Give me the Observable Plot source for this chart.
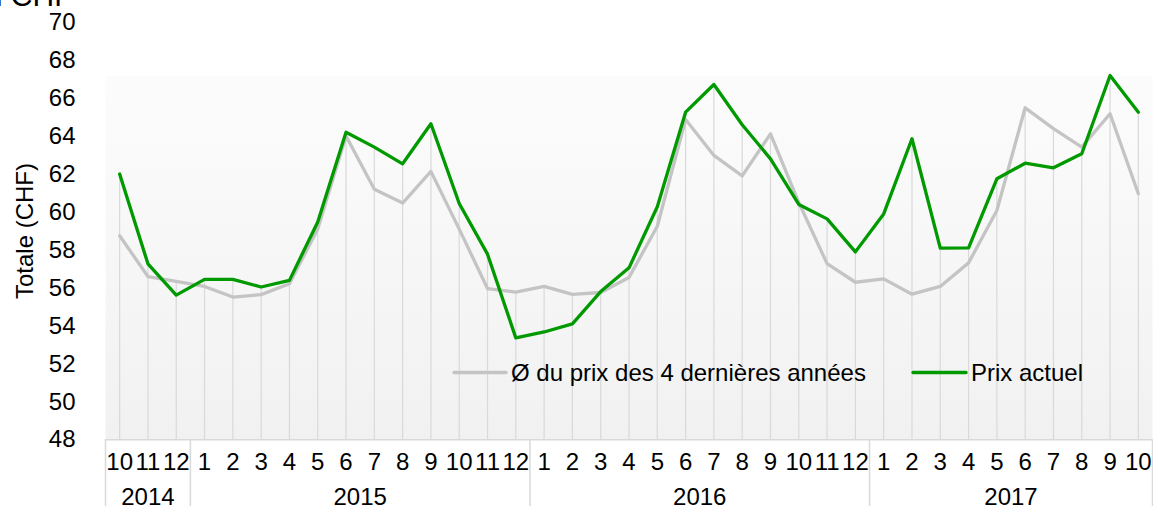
<!DOCTYPE html>
<html>
<head>
<meta charset="utf-8">
<script src="https://cdn.jsdelivr.net/npm/d3@7"></script>
<script src="https://cdn.jsdelivr.net/npm/@observablehq/plot@0.6"></script>
<style>
  html, body { margin: 0; padding: 0; background: #fff; }
  #chart { position: relative; width: 1153px; height: 506px; overflow: hidden; }
</style>
</head>
<body>
<div id="chart"></div>
<script>
const monthLabels = ["10","11","12","1","2","3","4","5","6","7","8","9","10","11","12","1","2","3","4","5","6","7","8","9","10","11","12","1","2","3","4","5","6","7","8","9","10"];
const yearLabels = ["2014","2015","2016","2017"];
const yearLengths = [3, 12, 12, 10];
const avgPrice = [58.75, 56.6, 56.35, 56.08, 55.52, 55.65, 56.22, 59.1, 64.0, 61.2, 60.47, 62.14, 59.1, 55.97, 55.78, 56.08, 55.66, 55.76, 56.55, 59.25, 64.87, 62.98, 61.9, 64.12, 60.5, 57.28, 56.3, 56.48, 55.67, 56.08, 57.32, 60.08, 65.49, 64.39, 63.42, 65.18, 60.96];
const currentPrice = [62.0, 57.27, 55.62, 56.45, 56.45, 56.05, 56.4, 59.47, 64.2, 63.42, 62.54, 64.65, 60.45, 57.78, 53.37, 53.68, 54.11, 55.81, 57.06, 60.28, 65.26, 66.72, 64.6, 62.8, 60.4, 59.64, 57.9, 59.9, 63.86, 58.1, 58.11, 61.75, 62.57, 62.33, 63.07, 67.19, 65.26];
const yTicks = [48,50,52,54,56,58,60,62,64,66,68,70];
const seriesNames = ["Ø du prix des 4 dernières années", "Prix actuel"];
const yLabel = "Totale (CHF)";
const unitLabel = "en CHF";

const idx = monthLabels.map((_, i) => i);
const rows = idx.map(i => ({i, avg: avgPrice[i], cur: currentPrice[i], top: Math.max(avgPrice[i], currentPrice[i])}));

// year boundaries and centers
const bounds = [-0.5];
const centers = [];
let acc = 0;
yearLengths.forEach(n => { centers.push(acc + (n - 1) / 2); acc += n; bounds.push(acc - 0.5); });

const FONT = "Liberation Sans, Arial, sans-serif";
const FS = 24;
const GREEN = "#009a00";
const GREY = "#c4c4c4";
const GRID = "#d9d9d9";

const plot = Plot.plot({
  width: 1153,
  height: 506,
  marginLeft: 105,
  marginRight: 1,
  marginTop: 21.7,
  marginBottom: 66.7,
  style: {fontFamily: FONT, fontSize: FS + "px", color: "#000", background: "transparent", overflow: "visible"},
  x: {type: "linear", domain: [-0.5, monthLabels.length - 0.5], label: null},
  y: {domain: [48, 70], label: null},
  marks: [
    Plot.frame({fill: "url(#bggrad)", stroke: "none"}),
    Plot.ruleX(rows, {x: "i", y1: 48, y2: "top", stroke: GRID, strokeWidth: 1.2}),
    Plot.ruleY([48], {stroke: GRID, strokeWidth: 1.5}),
    Plot.axisX({ticks: bounds, tickSize: 66.7, tickFormat: () => "", stroke: GRID, strokeWidth: 1.5, strokeOpacity: 1, label: null}),
    Plot.axisX({ticks: idx, tickSize: 0, tickPadding: 13, tickFormat: i => monthLabels[i], fontSize: FS, fill: "#000", label: null}),
    Plot.axisX({ticks: centers, tickSize: 0, tickPadding: 48, tickFormat: (d, k) => yearLabels[k], fontSize: FS, fill: "#000", label: null}),
    Plot.axisY({ticks: yTicks, tickSize: 0, tickPadding: 30, tickFormat: d => String(d), fontSize: FS, fill: "#000", label: null}),
    Plot.text([yLabel], {frameAnchor: "left", textAnchor: "middle", lineAnchor: "middle", rotate: -90, dx: -80, fontSize: FS, fill: "#000"}),
    Plot.text([unitLabel], {frameAnchor: "top-left", textAnchor: "end", lineAnchor: "bottom", dx: -33, dy: -16.7, fontSize: 30, fill: "#000"}),
    Plot.line(rows, {x: "i", y: "avg", stroke: GREY, strokeWidth: 3.3, strokeLinejoin: "round"}),
    Plot.line(rows, {x: "i", y: "cur", stroke: GREEN, strokeWidth: 3.3, strokeLinejoin: "round"})
  ]
});

const svg = d3.select(plot);
const defs = svg.insert("defs", ":first-child");
const grad = defs.append("linearGradient").attr("id", "bggrad").attr("x1", 0).attr("y1", 0).attr("x2", 0).attr("y2", 1);
grad.append("stop").attr("offset", "0").attr("stop-color", "#ffffff");
grad.append("stop").attr("offset", "0.129").attr("stop-color", "#ffffff");
grad.append("stop").attr("offset", "0.13").attr("stop-color", "#fcfcfc");
grad.append("stop").attr("offset", "1").attr("stop-color", "#f1f1f1");

// legend
const lg = svg.append("g").attr("font-family", FONT).attr("font-size", FS).attr("text-anchor", "start");
const legendItems = [
  {name: seriesNames[0], color: GREY, x0: 454, x1: 506, tx: 511},
  {name: seriesNames[1], color: GREEN, x0: 913, x1: 966, tx: 971}
];
legendItems.forEach(it => {
  lg.append("line").attr("x1", it.x0).attr("x2", it.x1).attr("y1", 372.5).attr("y2", 372.5)
    .attr("stroke", it.color).attr("stroke-width", 3.3).attr("stroke-linecap", "round");
  lg.append("text").attr("x", it.tx).attr("y", 372.5).attr("dy", "0.35em").attr("text-anchor", "start").attr("fill", "#000").text(it.name);
});

document.getElementById("chart").appendChild(plot);
</script>
</body>
</html>
